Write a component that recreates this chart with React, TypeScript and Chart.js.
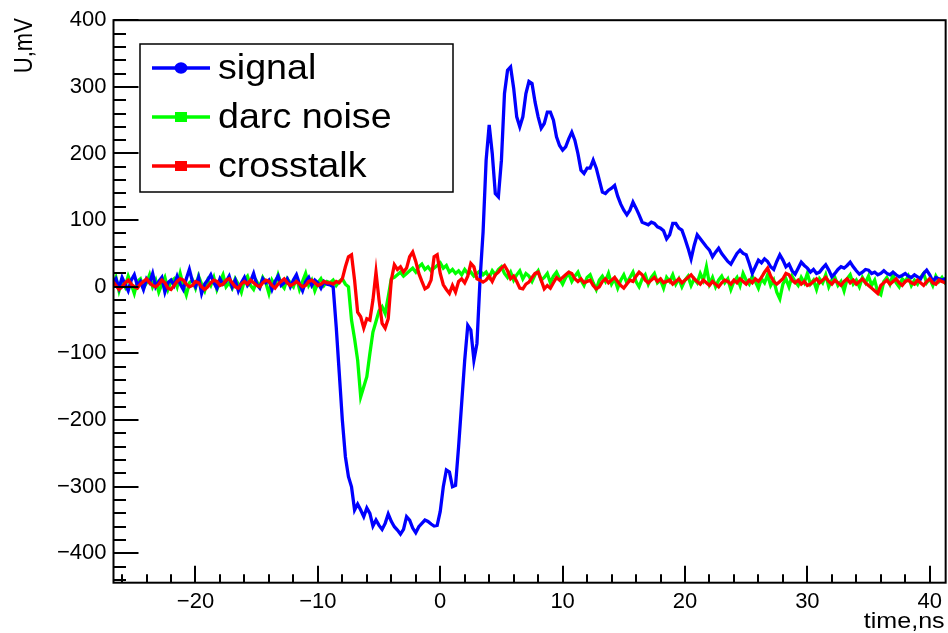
import React, { useEffect, useRef } from "react";
import { Chart, registerables } from "chart.js";
Chart.register(...registerables);

// time grid: first sample at T0 ns, step DT ns (4 samples per ns, one row per ns)
const T0 = -27;
const DT = 0.25;

const signal = [
  8, 6, 12, -2,
  14, 4, -6, 10,
  18, 2, 8, -4,
  12, 6, 20, 0,
  8, 14, -8, 6,
  10, 2, 16, 4,
  -4, 12, 26, 8,
  0, 14, -10, 4,
  10, 18, 6, -2,
  12, 4, 8, 16,
  0, 10, -6, 6,
  14, 2, 8, 20,
  4, -2, 12, 6,
  10, -4, 8, 16,
  2, 6, 12, 0,
  10, 18, 4, -6,
  8, 14, 2, 10,
  6, -2, 8, 4,
  3, 0, -60, -130,
  -200, -255, -285, -300,
  -335, -326, -335, -345,
  -332, -340, -359, -350,
  -358, -364, -355, -341,
  -352, -360, -365, -371,
  -364, -345, -350, -362,
  -369, -360, -355, -350,
  -352, -356, -359, -358,
  -337, -300, -275, -278,
  -300, -298, -240, -175,
  -110, -58, -65, -110,
  -85, 10, 82, 190,
  243, 200, 140, 135,
  190, 290, 325, 330,
  298, 255, 240, 255,
  290, 308, 305, 277,
  255, 238, 245, 262,
  262, 250, 225, 212,
  205, 210, 222, 232,
  220, 200, 175, 170,
  178, 178, 190, 178,
  160, 142, 140, 145,
  148, 152, 136, 124,
  115, 108, 115, 127,
  118, 108, 97, 95,
  93, 97, 95, 90,
  88, 84, 72, 78,
  95, 95, 88, 85,
  72, 58, 42, 62,
  78, 72, 66, 60,
  55, 45, 52, 58,
  50, 44, 38, 34,
  42, 50, 55, 50,
  48, 35, 20, 30,
  40, 36, 42, 38,
  30, 26, 38, 48,
  40, 30, 34, 24,
  19, 28, 37, 32,
  28, 22, 26, 20,
  22, 28, 33, 25,
  15, 20, 26, 30,
  28, 32, 37, 30,
  24, 19, 22, 26,
  25, 20, 22, 18,
  20, 24, 20, 18,
  22, 18, 15, 17,
  20, 16, 14, 18,
  15, 12, 20, 25,
  18, 8, 14, 12,
  10, 12, 10, 12,
];

const darcNoise = [
  6, 2, 14, -6,
  10, 0, 16, 4,
  -10, 8, 12, -2,
  6, 18, 0, 10,
  -8, 4, 14, -4,
  8, 12, 0, 20,
  2, -12, 6, 10,
  -2, 16, 4, -6,
  10, 2, 14, -4,
  8, 18, 0, 6,
  -2, 12, 4, -8,
  10, 16, 2, -4,
  8, 0, 14, 6,
  -10, 10, 2, 18,
  4, -2, 12, 6,
  0, 14, -4, 8,
  20, 2, 10, -6,
  6, 12, 2, 8,
  6, 10, 2, 8,
  12, 4, 0, -50,
  -78, -110, -165, -150,
  -135, -100, -68, -52,
  -36, -30, -40, -15,
  12, 14, 18, 22,
  16, 20, 24, 28,
  22, 30, 34, 26,
  30, 24, 28, 32,
  36, 28, 32, 22,
  26, 20, 24, 18,
  26, 20, 22, 16,
  20, 24, 18, 22,
  14, 24, 18, 26,
  30, 20, 14, 22,
  10, 18, 24, 12,
  20, 16, 8, 18,
  24, 10, 14, 20,
  6, 16, 22, 12,
  4, 14, 20, 8,
  16, 22, 10, 2,
  14, 18, 6, -4,
  10, 16, 8, 20,
  4, 12, -2, 10,
  18, 6, 14, 22,
  8, 0, 12, 18,
  4, 14, 20, 6,
  10, -2, 14, 8,
  18, 4, 12, 0,
  10, 16, 2, 12,
  6, 20, 10, 30,
  4, 14, 0, 10,
  16, 6, 12, -4,
  8, 14, 2, 20,
  10, 4, 16, 8,
  -2, 12, 6, 18,
  2, 10, -8, -18,
  4, 12, 0, 16,
  8, 2, 14, 6,
  20, 4, 10, -4,
  12, 6, 18, 0,
  10, 14, 2, 8,
  -6, 12, 18, 4,
  10, 0, 14, 6,
  16, 2, 10, -8,
  -12, 8, 14, 4,
  18, 6, 0, 12,
  8, 16, 2, 10,
  4, 14, 20, 6,
  12, 2, 16, 8,
  14, 6, 10, 8,
];

const crosstalk = [
  6, 8, 2, -4,
  0, 6, 10, 4,
  0, -2, 4, 8,
  12, 6, 2, 0,
  4, 10, 6, -2,
  -4, 2, 8, 12,
  10, 4, 0, 2,
  8, 6, 0, -4,
  0, 6, 10, 8,
  2, 4, 10, 12,
  6, 0, -2, 4,
  8, 4, 10, 6,
  2, 0, 6, 10,
  8, 2, -2, 4,
  8, 12, 6, 2,
  4, 8, 4, 0,
  2, 8, 10, 6,
  2, 4, 8, 6,
  6, 4, 8, 6,
  12, 30, 45, 48,
  10, -38, -45, -62,
  -48, -50, -20, 22,
  -20, -55, -62, -48,
  10, 33, 26, 30,
  22, 28, 45, 52,
  38, 20, 8, -3,
  0, 10, 45, 48,
  20, 3, -4, -10,
  2, -8, 8, 12,
  6, 16, 35, 30,
  12, 10, 7, 10,
  16, 8, 18, 22,
  28, 32, 24, 12,
  16, 8, -2, -3,
  4, 7, 14, 20,
  22, 10, -3, 2,
  -2, 6, 14, 10,
  14, 18, 22, 20,
  12, 8, 12, 6,
  8, 10, 2, -3,
  0, 8, 12, 6,
  10, 14, 8, 2,
  -2, 4, 10, 8,
  16, 22, 18, 10,
  6, 10, 14, 8,
  12, 6, 8, 10,
  4, 8, 12, 6,
  10, 14, 18, 12,
  8, 4, 10, 6,
  2, 8, 4, 0,
  6, 10, 8, 4,
  10, 6, 12, 8,
  4, 10, 6, 12,
  8, 14, 22, 28,
  16, 8, 4, 8,
  12, 20, 18, 10,
  6, 10, 4, 8,
  2, 4, 8, 12,
  6, 10, 14, 8,
  4, 10, 6, 2,
  8, 12, 6, 10,
  4, 8, 12, 6,
  2, -2, -6, -10,
  2, 6, 10, 4,
  8, 12, 6, 2,
  8, 10, 6, 4,
  10, 6, 2, 8,
  12, 6, 4, 10,
  8, 6, 8, 6,
];

const seriesNames = ["signal", "darc noise", "crosstalk"];
const seriesColors = ["#0000ff", "#00ff00", "#ff0000"];
const xMajorTicks = [-20, -10, 0, 10, 20, 30, 40];
const yMajorTicks = [-400, -300, -200, -100, 0, 100, 200, 300, 400];
const X_MIN = -26.7;
const X_MAX = 41.3;
const Y_MIN = -444;
const Y_MAX = 400;
const X_TITLE = "time,ns";
const Y_TITLE = "U,mV";

const FONT = "'Liberation Sans', Arial, Helvetica, sans-serif";
const SX = 1.14; // horizontal text stretch seen in the reference

const toPoints = (arr: number[]) => arr.map((y, i) => ({ x: T0 + i * DT, y }));

function stretchedText(ctx: CanvasRenderingContext2D, text: string, x: number, y: number, align: CanvasTextAlign, sx = SX) {
  ctx.save();
  ctx.translate(x, y);
  ctx.scale(sx, 1);
  ctx.textAlign = align;
  ctx.fillText(text, 0, 0);
  ctx.restore();
}

const rootStyle = {
  id: "rootStyle",
  afterDatasetsDraw(chart: any) {
    const { ctx, chartArea: a, scales } = chart;
    const xs = scales.x;
    const ys = scales.y;
    ctx.save();
    ctx.strokeStyle = "#000";
    ctx.lineWidth = 2;
    ctx.lineCap = "butt";
    // y ticks (inside)
    for (let v = -440; v <= 400; v += 20) {
      const py = Math.round(ys.getPixelForValue(v));
      const major = v % 100 === 0;
      ctx.beginPath();
      ctx.moveTo(a.left, py);
      ctx.lineTo(a.left + (major ? 25 : 12.5), py);
      ctx.stroke();
    }
    // x ticks (inside)
    for (let v = -26; v <= 40; v += 2) {
      const px = Math.round(xs.getPixelForValue(v));
      const major = v % 10 === 0;
      ctx.beginPath();
      ctx.moveTo(px, a.bottom);
      ctx.lineTo(px, a.bottom - (major ? 17 : 8.5));
      ctx.stroke();
    }
    // frame
    ctx.lineWidth = 2;
    ctx.strokeRect(a.left, a.top, a.right - a.left, a.bottom - a.top);

    // legend
    const lx0 = 140, ly0 = 44, lx1 = 453, ly1 = 192;
    ctx.fillStyle = "#fff";
    ctx.fillRect(lx0, ly0, lx1 - lx0, ly1 - ly0);
    ctx.lineWidth = 1.5;
    ctx.strokeRect(lx0, ly0, lx1 - lx0, ly1 - ly0);
    const rows = [68, 117, 166];
    seriesNames.forEach((name, i) => {
      const ry = rows[i];
      ctx.strokeStyle = seriesColors[i];
      ctx.fillStyle = seriesColors[i];
      ctx.lineWidth = 3.3;
      ctx.beginPath();
      ctx.moveTo(152, ry);
      ctx.lineTo(210, ry);
      ctx.stroke();
      if (i === 0) {
        ctx.beginPath();
        ctx.ellipse(181, ry, 6.5, 5.7, 0, 0, Math.PI * 2);
        ctx.fill();
      } else {
        ctx.fillRect(181 - 6, ry - 5, 12, 10);
      }
      ctx.fillStyle = "#000";
      ctx.font = `35px ${FONT}`;
      ctx.textBaseline = "middle";
      stretchedText(ctx, name, 218, ry + 1, "left", 1.075);
    });
    ctx.restore();
  },
  afterDraw(chart: any) {
    const { ctx, chartArea: a } = chart;
    ctx.save();
    ctx.fillStyle = "#000";
    ctx.font = `22px ${FONT}`;
    // x title
    ctx.textBaseline = "alphabetic";
    stretchedText(ctx, X_TITLE, a.right - 1, 628, "right");
    // y title
    ctx.translate(25, a.top - 2);
    ctx.rotate(-Math.PI / 2);
    ctx.scale(1, SX);
    ctx.textAlign = "right";
    ctx.textBaseline = "middle";
    ctx.fillText(Y_TITLE, 0, 0);
    ctx.restore();
  },
};

export default function App() {
  const ref = useRef<HTMLCanvasElement | null>(null);
  useEffect(() => {
    if (!ref.current) return;
    const chart = new Chart(ref.current, {
      type: "line",
      data: {
        datasets: [
          { label: seriesNames[0], data: toPoints(signal), borderColor: seriesColors[0], order: 1 },
          { label: seriesNames[1], data: toPoints(darcNoise), borderColor: seriesColors[1], order: 2 },
          { label: seriesNames[2], data: toPoints(crosstalk), borderColor: seriesColors[2], order: 0 },
        ].map((d) => ({ ...d, borderWidth: 3.3, pointRadius: 0, tension: 0, fill: false })),
      },
      options: {
        animation: false,
        responsive: false,
        events: [],
        layout: { padding: { left: 0, top: 17, right: 1.5, bottom: 0 } },
        plugins: { legend: { display: false }, tooltip: { enabled: false } },
        scales: {
          x: {
            type: "linear",
            min: X_MIN,
            max: X_MAX,
            grid: { display: false, drawTicks: false },
            border: { display: false },
            afterBuildTicks: (s: any) => {
              s.ticks = xMajorTicks.map((v) => ({ value: v }));
            },
            afterFit: (s: any) => {
              s.height = 50.3;
            },
            ticks: {
              autoSkip: false,
              maxRotation: 0,
              padding: 6,
              color: "#000",
              font: { family: FONT, size: 22 },
              callback: (v: any) => String(v).replace("-", "\u2212"),
            },
          },
          y: {
            type: "linear",
            min: Y_MIN,
            max: Y_MAX,
            grid: { display: false, drawTicks: false },
            border: { display: false },
            afterBuildTicks: (s: any) => {
              s.ticks = yMajorTicks.map((v) => ({ value: v }));
            },
            afterFit: (s: any) => {
              s.width = 113.5;
            },
            ticks: {
              padding: 7,
              color: "#000",
              font: { family: FONT, size: 22 },
              callback: (v: any) => String(v).replace("-", "\u2212"),
            },
          },
        },
      },
      plugins: [rootStyle],
    } as any);
    return () => chart.destroy();
  }, []);
  return (
    <div style={{ position: "fixed", left: 0, top: 0, width: 948, height: 633, background: "#fff" }}>
      <canvas ref={ref} width={948} height={633} style={{ display: "block" }} />
    </div>
  );
}
